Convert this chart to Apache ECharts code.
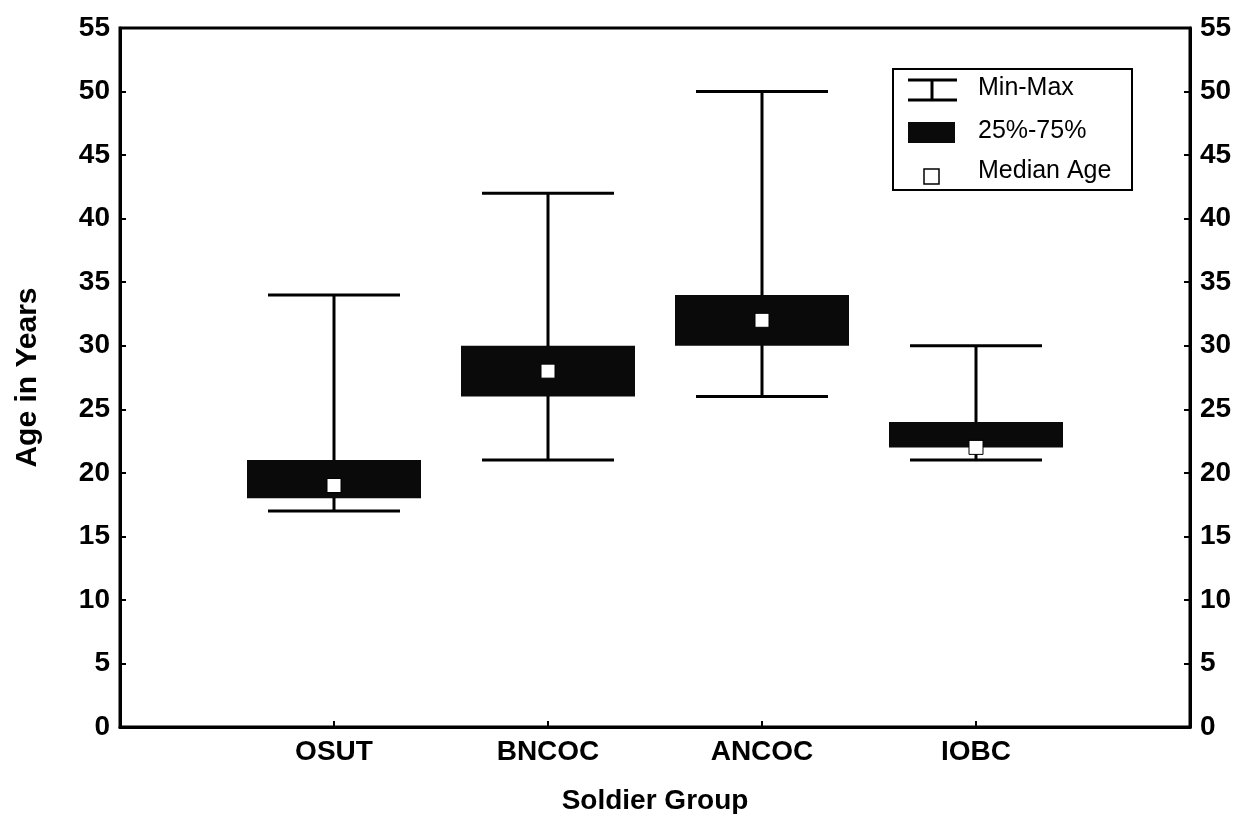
<!DOCTYPE html>
<html><head><meta charset="utf-8">
<script src="https://cdn.jsdelivr.net/npm/echarts@6/dist/echarts.min.js"></script>
<style>html,body{margin:0;padding:0;background:#fff}#c{width:1245px;height:814px}</style>
</head><body><div id="c"></div>
<script>
const categories = ['OSUT', 'BNCOC', 'ANCOC', 'IOBC'];
const minAge    = [17, 21, 26, 21];
const q1Age     = [18, 26, 30, 22];
const medianAge = [19, 28, 32, 22];
const q3Age     = [21, 30, 34, 24];
const maxAge    = [34, 42, 50, 30];
const legendLabels = ['Min-Max', '25%-75%', 'Median Age'];
const xTitle = 'Soldier Group';
const yTitle = 'Age in Years';

const FONT = '"Liberation Sans", Arial, sans-serif';
const data = categories.map((c, i) => [i + 1, minAge[i], q1Age[i], medianAge[i], q3Age[i], maxAge[i]]);

function renderItem(params, api) {
  const x = api.value(0);
  const pMin = api.coord([x, api.value(1)]);
  const pQ1 = api.coord([x, api.value(2)]);
  const pMed = api.coord([x, api.value(3)]);
  const pQ3 = api.coord([x, api.value(4)]);
  const pMax = api.coord([x, api.value(5)]);
  const boxHalf = 87, capHalf = 66, sq = 14;
  const ls = { stroke: '#000', lineWidth: 3 };
  return {
    type: 'group',
    children: [
      { type: 'line', shape: { x1: pMin[0], y1: pMin[1], x2: pMax[0], y2: pMax[1] }, style: ls },
      { type: 'line', shape: { x1: pMin[0] - capHalf, y1: pMin[1], x2: pMin[0] + capHalf, y2: pMin[1] }, style: ls },
      { type: 'line', shape: { x1: pMax[0] - capHalf, y1: pMax[1], x2: pMax[0] + capHalf, y2: pMax[1] }, style: ls },
      { type: 'rect', shape: { x: pQ3[0] - boxHalf, y: pQ3[1], width: 2 * boxHalf, height: pQ1[1] - pQ3[1] }, style: { fill: '#0a0a0a' } },
      { type: 'rect', shape: { x: pMed[0] - sq / 2, y: pMed[1] - sq / 2, width: sq, height: sq }, style: { fill: '#fff', stroke: '#000', lineWidth: 1 } }
    ]
  };
}

const yAxisCommon = {
  type: 'value', min: 0, max: 55, interval: 5,
  splitLine: { show: false },
  axisLine: { show: true, lineStyle: { color: '#000', width: 3 } },
  axisTick: { show: true, inside: true, length: 6, lineStyle: { color: '#000', width: 2 } },
  axisLabel: { color: '#000', fontSize: 28, fontWeight: 'bold', fontFamily: FONT, margin: 10 }
};

const chart = echarts.init(document.getElementById('c'));
chart.setOption({
  backgroundColor: '#fff',
  animation: false,
  grid: { left: 120, right: 55, top: 28, bottom: 87, show: true, borderColor: '#000', borderWidth: 3,
          containLabel: false, outerBoundsMode: 'none' },
  xAxis: {
    type: 'value', min: 0, max: 5, interval: 1,
    name: xTitle, nameLocation: 'middle', nameGap: 60,
    nameTextStyle: { color: '#000', fontSize: 28, fontWeight: 'bold', fontFamily: FONT },
    splitLine: { show: false },
    axisLine: { show: true, lineStyle: { color: '#000', width: 3 } },
    axisTick: { show: true, inside: true, length: 6, lineStyle: { color: '#000', width: 2 } },
    axisLabel: { color: '#000', fontSize: 28, fontWeight: 'bold', fontFamily: FONT, margin: 11,
      formatter: v => categories[v - 1] || '' }
  },
  yAxis: [
    Object.assign({}, yAxisCommon, {
      position: 'left', name: yTitle, nameLocation: 'middle', nameGap: 77,
      nameTextStyle: { color: '#000', fontSize: 30, fontWeight: 'bold', fontFamily: FONT }
    }),
    Object.assign({}, yAxisCommon, { position: 'right' })
  ],
  series: [{
    type: 'custom', name: 'Age', renderItem: renderItem, data: data,
    encode: { x: 0, y: [1, 2, 3, 4, 5] }, z: 5
  }],
  graphic: [{
    type: 'group', left: 892, top: 68, z: 100,
    children: [
      { type: 'rect', shape: { x: 0, y: 0, width: 239, height: 121 }, style: { fill: '#fff', stroke: '#000', lineWidth: 2 } },
      { type: 'line', shape: { x1: 15, y1: 11, x2: 64, y2: 11 }, style: { stroke: '#000', lineWidth: 3 } },
      { type: 'line', shape: { x1: 15, y1: 31, x2: 64, y2: 31 }, style: { stroke: '#000', lineWidth: 3 } },
      { type: 'line', shape: { x1: 39, y1: 11, x2: 39, y2: 31 }, style: { stroke: '#000', lineWidth: 3 } },
      { type: 'rect', shape: { x: 15, y: 53, width: 47, height: 21 }, style: { fill: '#0a0a0a' } },
      { type: 'rect', shape: { x: 31, y: 100, width: 15, height: 15 }, style: { fill: '#fff', stroke: '#000', lineWidth: 1.5 } },
      { type: 'text', x: 85, y: 19, style: { text: legendLabels[0], fill: '#000', font: '25px ' + FONT, textVerticalAlign: 'middle' } },
      { type: 'text', x: 85, y: 62, style: { text: legendLabels[1], fill: '#000', font: '25px ' + FONT, textVerticalAlign: 'middle' } },
      { type: 'text', x: 85, y: 102, style: { text: legendLabels[2], fill: '#000', font: '25px ' + FONT, textVerticalAlign: 'middle' } }
    ]
  }]
});
</script>
</body></html>
